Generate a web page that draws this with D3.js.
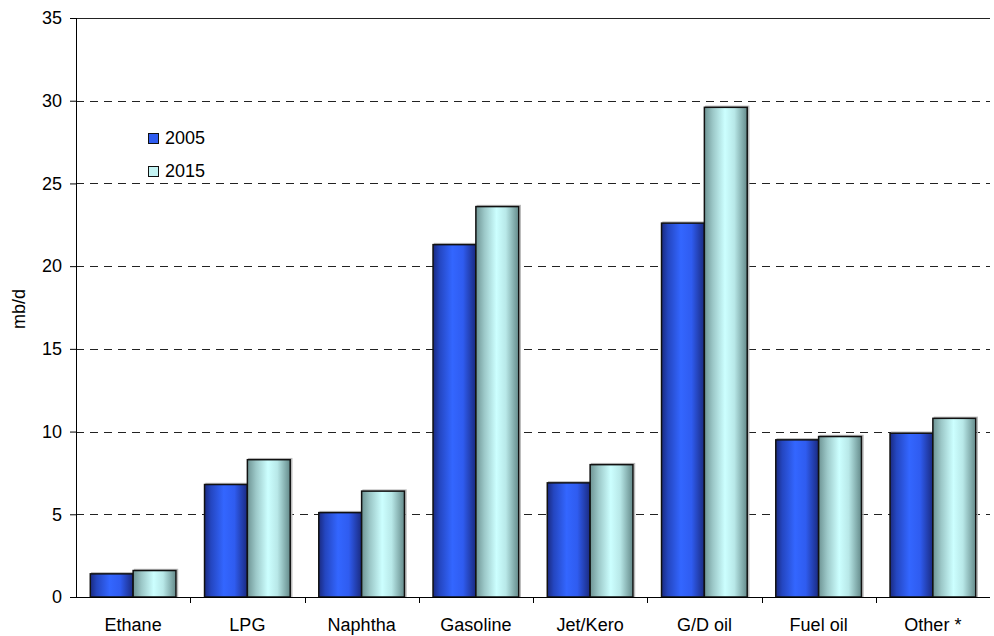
<!DOCTYPE html>
<html>
<head>
<meta charset="utf-8">
<script src="https://cdn.jsdelivr.net/npm/d3@7"></script>
<style>
  html, body { margin: 0; padding: 0; background: #fff; }
  svg { display: block; font-family: "Liberation Sans", Arial, sans-serif; }
</style>
</head>
<body>
<svg id="chart" width="994" height="636"></svg>
<script>
// Product categories and demand (mb/d)
const categories = ["Ethane", "LPG", "Naphtha", "Gasoline", "Jet/Kero", "G/D oil", "Fuel oil", "Other *"];
const seriesNames = ["2005", "2015"];
const values2005 = [1.4, 6.8, 5.1, 21.3, 6.9, 22.6, 9.5, 9.9];
const values2015 = [1.6, 8.3, 6.4, 23.6, 8.0, 29.6, 9.7, 10.8];
const yTicks = [0, 5, 10, 15, 20, 25, 30, 35];
const yLabel = "mb/d";

const svg = d3.select("#chart");
const margin = { left: 76, right: 4, top: 18, bottom: 39 };
const width = 994 - margin.left - margin.right;
const height = 636 - margin.top - margin.bottom;
const FONT = "'Liberation Sans', Arial, sans-serif";

const defs = svg.append("defs");
function barGradient(id, stops) {
  const g = defs.append("linearGradient").attr("id", id)
    .attr("x1", "0%").attr("x2", "100%").attr("y1", "0%").attr("y2", "0%");
  stops.forEach(([o, c]) => g.append("stop").attr("offset", o).attr("stop-color", c));
}
barGradient("grad2005", [["0%", "#1a2a80"], ["15%", "#2446c0"], ["45%", "#3366ff"], ["70%", "#2f5cf0"], ["100%", "#1a2a80"]]);
barGradient("grad2015", [["0%", "#6e9494"], ["20%", "#9cc8c8"], ["48%", "#ccffff"], ["70%", "#b8e8e8"], ["100%", "#648a8a"]]);
const fills = ["url(#grad2005)", "url(#grad2015)"];
const legendFills = ["#2f5cf0", "#c4f4f4"];

const g = svg.append("g").attr("transform", `translate(${margin.left},${margin.top})`);

const x0 = d3.scaleBand().domain(categories).range([0, width]).paddingInner(0).paddingOuter(0);
const x1 = d3.scaleBand().domain(seriesNames).range([x0.bandwidth() * 0.125, x0.bandwidth() * 0.875]).padding(0);
const y = d3.scaleLinear().domain([0, 35]).range([height, 0]);

// Gridlines
g.append("g").selectAll("line")
  .data(yTicks.filter(t => t > 0 && t < 35))
  .join("line")
  .attr("x1", 0).attr("x2", width)
  .attr("y1", d => Math.round(y(d)) + 0.5).attr("y2", d => Math.round(y(d)) + 0.5)
  .attr("stroke", "#222").attr("stroke-width", 1).attr("stroke-dasharray", "8,6");
g.append("line")
  .attr("x1", 0).attr("x2", width)
  .attr("y1", Math.round(y(35)) + 0.5).attr("y2", Math.round(y(35)) + 0.5)
  .attr("stroke", "#222").attr("stroke-width", 1);

// Bars
const data = categories.map((c, i) => ({ cat: c, vals: [values2005[i], values2015[i]] }));
const groups = g.append("g").selectAll("g")
  .data(data).join("g")
  .attr("transform", d => `translate(${x0(d.cat)},0)`);
groups.selectAll("rect.shadow")
  .data(d => d.vals.map((v, k) => ({ v, k })))
  .join("rect").attr("class", "shadow")
  .attr("x", d => x1(seriesNames[d.k]) + 1.5)
  .attr("y", d => y(d.v) - 1)
  .attr("width", x1.bandwidth())
  .attr("height", d => height - y(d.v) + 1)
  .attr("fill", "none").attr("stroke", "#bbb").attr("stroke-width", 1.5);
groups.selectAll("rect.bar")
  .data(d => d.vals.map((v, k) => ({ v, k })))
  .join("rect").attr("class", "bar")
  .attr("x", d => x1(seriesNames[d.k]))
  .attr("y", d => y(d.v))
  .attr("width", x1.bandwidth())
  .attr("height", d => height - y(d.v))
  .attr("fill", d => fills[d.k])
  .attr("stroke", "#111").attr("stroke-width", 1.5);

// Y axis
const yAxis = g.append("g")
  .call(d3.axisLeft(y).tickValues(yTicks).tickSize(6).tickPadding(8).tickFormat(d3.format("d")));
yAxis.select(".domain").attr("stroke", "#000").attr("d", `M0.5,${height}V0`);
yAxis.selectAll(".tick line").attr("stroke", "#000");
yAxis.selectAll("text").attr("font-size", 18).attr("fill", "#000").attr("font-family", FONT);

// X axis
const xAxis = g.append("g").attr("transform", `translate(0,${height})`)
  .call(d3.axisBottom(x0).tickSize(0).tickPadding(21));
xAxis.select(".domain").attr("stroke", "#000").attr("d", `M0,0.5H${width}`);
xAxis.selectAll("text").attr("font-size", 18).attr("fill", "#000").attr("font-family", FONT);
g.append("g").selectAll("line")
  .data(d3.range(1, categories.length))
  .join("line")
  .attr("x1", i => Math.round(i * x0.step()) + 0.5).attr("x2", i => Math.round(i * x0.step()) + 0.5)
  .attr("y1", height).attr("y2", height + 6)
  .attr("stroke", "#000");

// Y axis title
svg.append("text")
  .attr("transform", "translate(25,309) rotate(-90)")
  .attr("text-anchor", "middle")
  .attr("font-family", FONT)
  .attr("font-size", 18).attr("fill", "#000")
  .text(yLabel);

// Legend
const legend = svg.append("g").attr("transform", "translate(148,133)");
seriesNames.forEach((s, k) => {
  const row = legend.append("g").attr("transform", `translate(0,${k * 33})`);
  row.append("rect").attr("x", 0.5).attr("y", 0.5).attr("width", 10).attr("height", 10)
    .attr("fill", legendFills[k]).attr("stroke", "#111").attr("stroke-width", 1);
  row.append("text").attr("x", 17).attr("y", 11).attr("font-family", FONT)
    .attr("font-size", 18).attr("fill", "#000").text(s);
});
</script>
</body>
</html>
